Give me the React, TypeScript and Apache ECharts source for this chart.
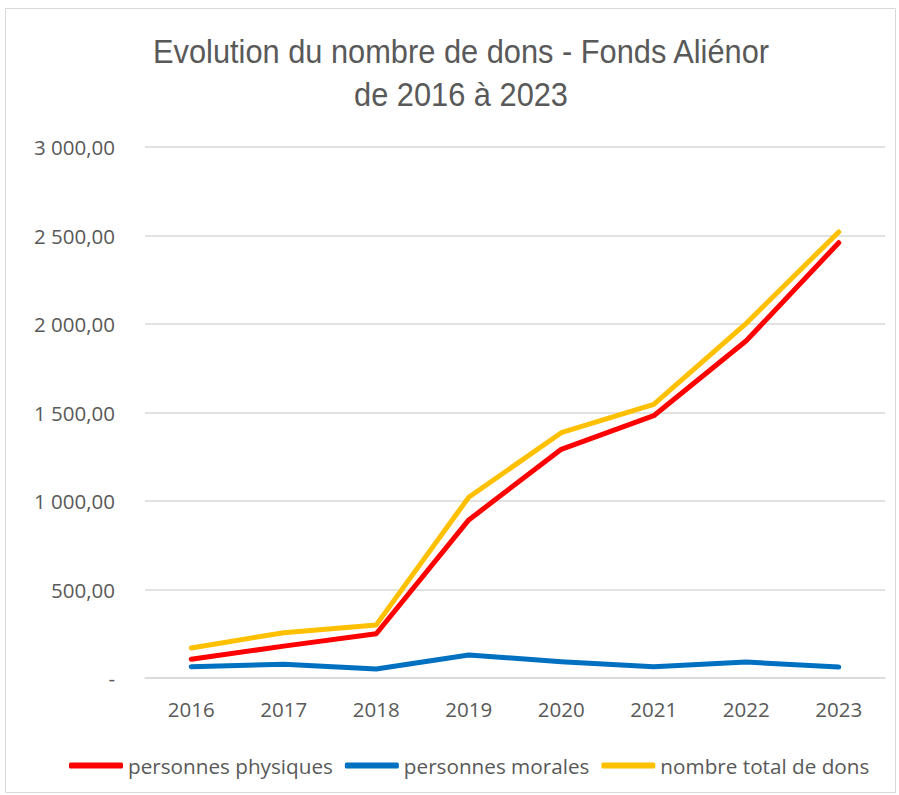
import React, { useEffect, useRef } from "react";
import * as echarts from "echarts";

const years = ["2016", "2017", "2018", "2019", "2020", "2021", "2022", "2023"];
const personnesPhysiques = [106, 180, 250, 893, 1292, 1482, 1905, 2459];
const personnesMorales = [64, 77, 51, 130, 92, 64, 90, 62];
const totalDons = [170, 256, 300, 1021, 1386, 1546, 2004, 2520];
const titleLines = ["Evolution du nombre de dons - Fonds Aliénor", "de 2016 à 2023"];

const fmt = (v: number) => {
  if (v === 0) return "-";
  const s = Math.round(v).toString().replace(/\B(?=(\d{3})+(?!\d))/g, " ");
  return s + ",00";
};

export default function App() {
  const ref = useRef<HTMLDivElement>(null);
  useEffect(() => {
    if (!ref.current) return;
    const chart = echarts.init(ref.current, undefined, { renderer: "svg" });
    const labelFont = "'Open Sans', sans-serif";
    const titleFont = "33px 'Liberation Sans', sans-serif";
    chart.setOption({
      animation: false,
      backgroundColor: "#ffffff",
      graphic: [
        {
          type: "rect",
          shape: { x: 5.5, y: 8.5, width: 890, height: 784 },
          style: { fill: "none", stroke: "#d9d9d9", lineWidth: 1 },
          silent: true,
        },
        {
          type: "text",
          x: 461,
          y: 52,
          scaleX: 0.933,
          style: {
            text: titleLines[0],
            fill: "#595959",
            font: titleFont,
            textAlign: "center",
            textVerticalAlign: "middle",
          },
        },
        {
          type: "text",
          x: 461,
          y: 95,
          scaleX: 0.933,
          style: {
            text: titleLines[1],
            fill: "#595959",
            font: titleFont,
            textAlign: "center",
            textVerticalAlign: "middle",
          },
        },
      ],
      legend: {
        left: 64,
        top: 750,
        itemWidth: 54,
        itemHeight: 6,
        itemGap: 12,
        icon: "roundRect",
        textStyle: { color: "#595959", fontSize: 20.7, fontFamily: labelFont },
        data: ["personnes physiques", "personnes morales", "nombre total de dons"],
      },
      grid: { left: 145, right: 14, top: 147, bottom: 117 },
      xAxis: {
        type: "category",
        data: years,
        boundaryGap: true,
        axisLine: { show: true, lineStyle: { color: "#d9d9d9", width: 1.5 } },
        axisTick: { show: false },
        axisLabel: { color: "#595959", fontSize: 20.5, fontFamily: labelFont, margin: 20 },
      },
      yAxis: {
        type: "value",
        min: 0,
        max: 3000,
        interval: 500,
        axisLine: { show: false },
        axisTick: { show: false },
        splitLine: { lineStyle: { color: "#d9d9d9", width: 1.5 } },
        axisLabel: {
          color: "#595959",
          fontSize: 20.5,
          fontFamily: labelFont,
          margin: 30,
          formatter: (v: number) => fmt(v),
        },
      },
      series: [
        {
          name: "personnes physiques",
          type: "line",
          data: personnesPhysiques,
          symbol: "none",
          lineStyle: { color: "#ff0000", width: 5, cap: "round", join: "round" },
          itemStyle: { color: "#ff0000" },
        },
        {
          name: "personnes morales",
          type: "line",
          data: personnesMorales,
          symbol: "none",
          lineStyle: { color: "#0070c0", width: 5, cap: "round", join: "round" },
          itemStyle: { color: "#0070c0" },
        },
        {
          name: "nombre total de dons",
          type: "line",
          data: totalDons,
          symbol: "none",
          lineStyle: { color: "#ffc000", width: 5, cap: "round", join: "round" },
          itemStyle: { color: "#ffc000" },
        },
      ],
    });
    return () => chart.dispose();
  }, []);
  return (
    <div
      ref={ref}
      style={{ position: "absolute", left: 0, top: 0, width: 899, height: 795 }}
    />
  );
}
